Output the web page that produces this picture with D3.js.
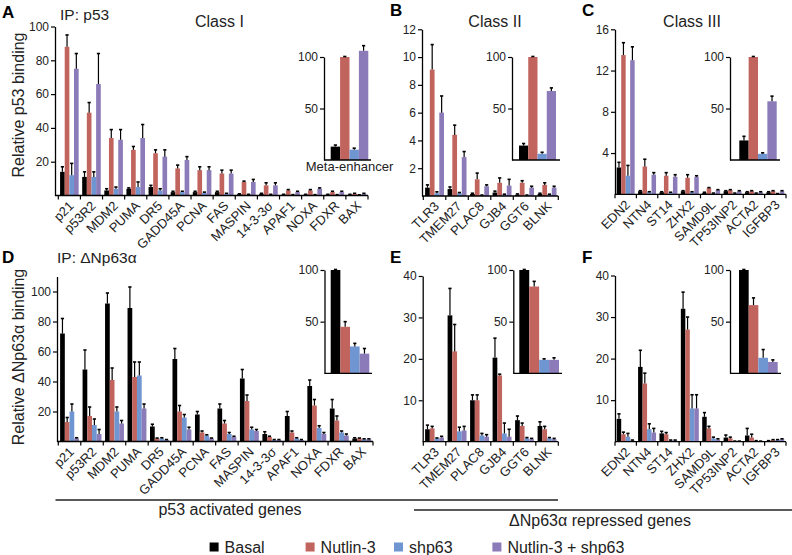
<!DOCTYPE html>
<html><head><meta charset="utf-8">
<script src="https://cdn.jsdelivr.net/npm/d3@7"></script>
<style>
body{margin:0;background:#fff}
svg{font-family:"Liberation Sans",Arial,Helvetica,sans-serif}
</style>
</head><body>
<svg id="chart" width="792" height="555"></svg>
<script>
// ---------------- DATA ----------------
const seriesNames = ["Basal", "Nutlin-3", "shp63", "Nutlin-3 + shp63"];
const seriesColors = ["#000000", "#c1645d", "#7096d2", "#8b7bb8"];

const genesClassI = ["p21","p53R2","MDM2","PUMA","DR5","GADD45A","PCNA","FAS","MASPIN","14-3-3\u03c3","APAF1","NOXA","FDXR","BAX"];
const genesClassII = ["TLR3","TMEM27","PLAC8","GJB4","GGT6","BLNK"];
const genesClassIII = ["EDN2","NTN4","ST14","ZHX2","SAMD9L","TP53INP2","ACTA2","IGFBP3"];
const insetLabel = "Meta-enhancer";

// values per gene: [Basal, Nutlin-3, shp63, Nutlin-3 + shp63]
const p53ClassI = [[14,88,12,75],[11,49,11,66],[3,34,4,33],[4,27,5,34],[5,25,3,23],[2,16,2,21],[2,15,1.5,15],[2,13,1,13],[0.8,8,0.5,8],[1,6,0.5,6],[0.5,3,0.3,2],[0.5,3,0.3,4],[0.5,2,0.3,2],[0.5,1,0.3,1]];
const p53ClassIErr = [[3,7,7,9],[3,6,3,18],[1,5,1,6],[0.5,2,3,8],[1,2,1,4],[0.5,2,0.5,2],[0.5,2,0.5,2],[0.5,2,0.3,2],[0.2,0.5,0.2,1.5],[0.3,1.5,0.2,1.5],[0.2,0.5,0.2,0.5],[0.2,0.5,0.2,0.5],[0.2,0.5,0.2,0.5],[0.2,0.3,0.1,0.3]];
const p53MetaI = [13,100,10,106];
const p53MetaIErr = [1.5,0.5,1.5,5];

const p53ClassII = [[0.6,9.1,0.2,6.0],[0.5,4.4,0.2,2.8],[0.15,1.2,0.05,0.7],[0.25,0.95,0.1,0.75],[0.1,0.95,0.05,0.6],[0.15,0.8,0.1,0.6]];
const p53ClassIIErr = [[0.2,1.8,0.1,1.2],[0.15,0.7,0.05,0.4],[0.05,0.45,0.02,0.1],[0.1,0.35,0.03,0.45],[0.05,0.15,0.02,0.1],[0.05,0.15,0.03,0.1]];
const p53MetaII = [14,100,6,67];
const p53MetaIIErr = [2,0.5,1.5,3];

const p53ClassIII = [[2.6,13.5,1.8,13.0],[0.3,2.7,0.2,1.9],[0.2,1.8,0.15,1.7],[0.3,1.6,0.2,1.7],[0.15,0.6,0.1,0.4],[0.3,0.4,0.1,0.3],[0.2,0.3,0.1,0.2],[0.2,0.3,0.05,0.3]];
const p53ClassIIIErr = [[0.5,1.2,1.0,1.3],[0.05,0.7,0.05,0.2],[0.05,0.3,0.05,0.2],[0.05,0.3,0.05,0.1],[0.05,0.05,0.02,0.05],[0.05,0.05,0.02,0.05],[0.05,0.05,0.02,0.05],[0.05,0.05,0.02,0.05]];
const p53MetaIII = [19,100,6,57];
const p53MetaIIIErr = [4,0.5,1,5];

const np63ClassI = [[72,13,20,2],[48,17,11,5],[92,41,20,12],[89,43,44,22],[10,2,2,1],[55,20,16,8],[18,6,4,2],[22,12,5,3],[42,27,8,7],[5,3,1,1],[17,6,2,1],[37,24,9,5],[22,14,6,4],[2,2,1.5,1.5]];
const np63ClassIErr = [[10,3,5,0.5],[13,6,4,3],[7,8,3,2],[14,10,9,3],[1.5,0.3,0.5,0.3],[7,4,2,1.5],[2,1,0.5,0.3],[3,2,1,0.5],[6,4,1.5,1],[1.5,0.5,0.3,0.3],[3,1,0.5,0.3],[4,4,1.5,1],[6,3,1,1],[0.5,0.3,0.3,0.3]];
const np63MetaI = [100,45,26,19];
const np63MetaIErr = [0.5,5,3,5];

const np63ClassII = [[3,3.2,0.7,1],[30.5,21.8,2.5,2.7],[10,10,1.5,1.2],[20.3,16,2,1.2],[5.2,3.8,0.8,0.6],[3.8,3,0.8,0.6]];
const np63ClassIIErr = [[1,0.5,0.2,0.3],[6.5,6.5,1,1],[1.3,1.3,0.5,0.5],[4.7,0.3,2.5,1.8],[1,0.7,0.2,0.2],[1,0.7,0.2,0.2]];
const np63MetaII = [100,84,13,13];
const np63MetaIIErr = [0.5,5,1,2];

const np63ClassIII = [[5.5,1.8,1.2,0.3],[18,14,3,2.2],[2,1.8,0.3,0.3],[32,27,8,8],[6,3.2,0.8,0.5],[1,0.8,0.1,0.1],[1.5,1,0.2,0.1],[0.2,0.4,0.4,0.6]];
const np63ClassIIIErr = [[1.2,0.5,0.8,0.1],[4,2.5,1.3,1],[0.5,0.4,0.1,0.1],[4,3,3.3,3.3],[1,0.5,0.3,0.2],[0.6,0.3,0.05,0.05],[1.7,0.8,0.05,0.05],[0.05,0.1,0.1,0.1]];
const np63MetaIII = [100,66,15,11];
const np63MetaIIIErr = [0.5,7,8,2];

const ticksA = [20,40,60,80,100];
const ticksB = [2,4,6,8,10,12];
const ticksC = [4,8,12,16];
const ticksD = [20,40,60,80,100];
const ticksEF = [10,20,30,40];
const ticksInset = [50,100];

// ---------------- DRAWING ----------------
const svg = d3.select("#chart");
const TICK_FONT = "12px", CAT_FONT = "13px";

function errorBar(g, cx, yTop, yEnd){
  g.append("line").attr("x1",cx).attr("x2",cx).attr("y1",yTop).attr("y2",yEnd)
    .attr("stroke","#000").attr("stroke-width",1.2);
  g.append("line").attr("x1",cx-1.6).attr("x2",cx+1.6).attr("y1",yEnd).attr("y2",yEnd)
    .attr("stroke","#000").attr("stroke-width",1.6);
}

function yAxis(g, y, axisX, ticks){
  const ax = g.append("g").attr("transform",`translate(${axisX},0)`)
    .call(d3.axisLeft(y).tickValues(ticks).tickSize(4).tickSizeOuter(0).tickPadding(2));
  ax.select(".domain").attr("stroke","#000").attr("stroke-width",1.3);
  ax.selectAll(".tick line").attr("stroke","#000").attr("stroke-width",1.2);
  ax.selectAll(".tick text").attr("font-size",TICK_FONT).attr("fill","#222")
    .attr("font-family","'Liberation Sans',Arial,sans-serif");
}

function mainPanel(p){
  const g = svg.append("g");
  const y = d3.scaleLinear().domain([0,p.yMax]).range([p.y0,p.yTop]);
  const x = d3.scaleBand().domain(p.genes).range([p.x0,p.x1]).paddingInner(0.16).paddingOuter(0.08);
  const xs = d3.scaleBand().domain(d3.range(4)).range([0,x.bandwidth()]);
  p.genes.forEach((gene,gi)=>{
    p.vals[gi].forEach((v,si)=>{
      const bx = x(gene)+xs(si);
      g.append("rect").attr("x",bx).attr("y",y(v)).attr("width",xs.bandwidth())
        .attr("height",p.y0-y(v)).attr("fill",seriesColors[si]);
    });
    p.vals[gi].forEach((v,si)=>{
      const cx = x(gene)+xs(si)+xs.bandwidth()/2;
      errorBar(g, cx, y(v), y(v+p.errs[gi][si]));
    });
  });
  // x axis line and boundary ticks
  g.append("line").attr("x1",p.axisX).attr("x2",p.x1).attr("y1",p.y0).attr("y2",p.y0)
    .attr("stroke","#000").attr("stroke-width",1.3);
  const step = x.step();
  d3.range(p.genes.length+1).forEach(i=>{
    const tx = p.x0 + i*step;
    g.append("line").attr("x1",tx).attr("x2",tx).attr("y1",p.y0).attr("y2",p.y0+4)
      .attr("stroke","#000").attr("stroke-width",1.2);
  });
  // category labels
  p.genes.forEach(gene=>{
    const cx = x(gene)+x.bandwidth()/2;
    g.append("text").attr("transform",`translate(${cx+2},${p.y0+8}) rotate(-45)`)
      .attr("text-anchor","end").attr("dy","0.35em").attr("font-size",CAT_FONT).attr("fill","#222")
      .text(gene);
  });
  yAxis(g, y, p.axisX, p.ticks);
}

function insetPanel(p){
  const g = svg.append("g");
  const y = d3.scaleLinear().domain([0,100]).range([p.y0,p.yTop]);
  const x = d3.scaleBand().domain(d3.range(4)).range([p.bx0,p.bx1]);
  p.vals.forEach((v,si)=>{
    g.append("rect").attr("x",x(si)).attr("y",y(v)).attr("width",x.bandwidth())
      .attr("height",p.y0-y(v)).attr("fill",seriesColors[si]);
  });
  p.vals.forEach((v,si)=>{
    errorBar(g, x(si)+x.bandwidth()/2, y(v), y(v+p.errs[si]));
  });
  g.append("line").attr("x1",p.axisX).attr("x2",p.lineEnd).attr("y1",p.y0).attr("y2",p.y0)
    .attr("stroke","#000").attr("stroke-width",1.3);
  yAxis(g, y, p.axisX, ticksInset);
  if(p.label){
    g.append("text").attr("x",(p.bx0+p.bx1)/2).attr("y",p.y0+11).attr("text-anchor","middle")
      .attr("font-size","13px").attr("fill","#222").text(p.label);
  }
}

// Top row: IP p53
mainPanel({genes:genesClassI, vals:p53ClassI, errs:p53ClassIErr, axisX:55, x0:58.3, x1:368, y0:195.5, yTop:26.5, yMax:100, ticks:ticksA});
insetPanel({vals:p53MetaI, errs:p53MetaIErr, axisX:324, bx0:330.7, bx1:368.3, lineEnd:371, y0:160, yTop:57, label:insetLabel});
mainPanel({genes:genesClassII, vals:p53ClassII, errs:p53ClassIIErr, axisX:422, x0:423.3, x1:558.3, y0:196, yTop:29.3, yMax:12, ticks:ticksB});
insetPanel({vals:p53MetaII, errs:p53MetaIIErr, axisX:512, bx0:519, bx1:556, lineEnd:560, y0:160, yTop:57});
mainPanel({genes:genesClassIII, vals:p53ClassIII, errs:p53ClassIIIErr, axisX:615, x0:615, x1:786, y0:194.3, yTop:29.3, yMax:16, ticks:ticksC});
insetPanel({vals:p53MetaIII, errs:p53MetaIIIErr, axisX:730, bx0:739.3, bx1:776.7, lineEnd:780, y0:160, yTop:57});

// Bottom row: IP dNp63a
mainPanel({genes:genesClassI, vals:np63ClassI, errs:np63ClassIErr, axisX:57, x0:58.3, x1:373, y0:441.5, yTop:276.5, yMax:110, ticks:ticksD});
insetPanel({vals:np63MetaI, errs:np63MetaIErr, axisX:324.5, bx0:330.7, bx1:369.3, lineEnd:372, y0:373.3, yTop:270});
mainPanel({genes:genesClassII, vals:np63ClassII, errs:np63ClassIIErr, axisX:422.7, x0:423.3, x1:558.3, y0:441.7, yTop:276, yMax:40, ticks:ticksEF});
insetPanel({vals:np63MetaII, errs:np63MetaIIErr, axisX:513.3, bx0:519.3, bx1:559, lineEnd:562, y0:373.3, yTop:270});
mainPanel({genes:genesClassIII, vals:np63ClassIII, errs:np63ClassIIIErr, axisX:615, x0:615, x1:786, y0:441.7, yTop:275.5, yMax:40, ticks:ticksEF});
insetPanel({vals:np63MetaIII, errs:np63MetaIIIErr, axisX:730, bx0:739, bx1:777.7, lineEnd:781, y0:373.3, yTop:270});

// Text annotations
function txt(x,y,s,opts={}){
  const t = svg.append("text").attr("x",x).attr("y",y).attr("font-size",opts.size||"15.5px")
    .attr("fill",opts.fill||"#222").attr("text-anchor",opts.anchor||"start").text(s);
  if(opts.bold) t.attr("font-weight","bold").attr("fill","#000");
  return t;
}
txt(2,18,"A",{bold:true,size:"17px"});
txt(390,16,"B",{bold:true,size:"17px"});
txt(582,16,"C",{bold:true,size:"17px"});
txt(2,263,"D",{bold:true,size:"17px"});
txt(390,263,"E",{bold:true,size:"17px"});
txt(582,263,"F",{bold:true,size:"17px"});

txt(60,20,"IP: p53");
txt(57,263,"IP: \u0394Np63\u03b1");
txt(195,27,"Class I",{size:"16px"});
txt(495,27,"Class II",{size:"16px",anchor:"middle"});
txt(692,27,"Class III",{size:"16px",anchor:"middle"});

svg.append("text").attr("transform","translate(24,105) rotate(-90)").attr("text-anchor","middle")
  .attr("font-size","16px").attr("fill","#222").text("Relative p53 binding");
svg.append("text").attr("transform","translate(24,357) rotate(-90)").attr("text-anchor","middle")
  .attr("font-size","16px").attr("fill","#222").text("Relative \u0394Np63\u03b1 binding");

// group brackets
svg.append("line").attr("x1",55.5).attr("x2",558).attr("y1",500).attr("y2",500).attr("stroke","#222").attr("stroke-width",1.3);
txt(230,515,"p53 activated genes",{size:"16px",anchor:"middle"});
svg.append("line").attr("x1",414).attr("x2",792).attr("y1",510).attr("y2",510).attr("stroke","#222").attr("stroke-width",1.3);
txt(600,526,"\u0394Np63\u03b1 repressed genes",{size:"16px",anchor:"middle"});

// legend
const legendX = [209.6, 305.6, 394, 492.4];
seriesNames.forEach((name,i)=>{
  svg.append("rect").attr("x",legendX[i]).attr("y",542.5).attr("width",9).attr("height",9).attr("fill",seriesColors[i]);
  txt(legendX[i]+15,552.5,name,{size:"16px"});
});
</script>
</body></html>
